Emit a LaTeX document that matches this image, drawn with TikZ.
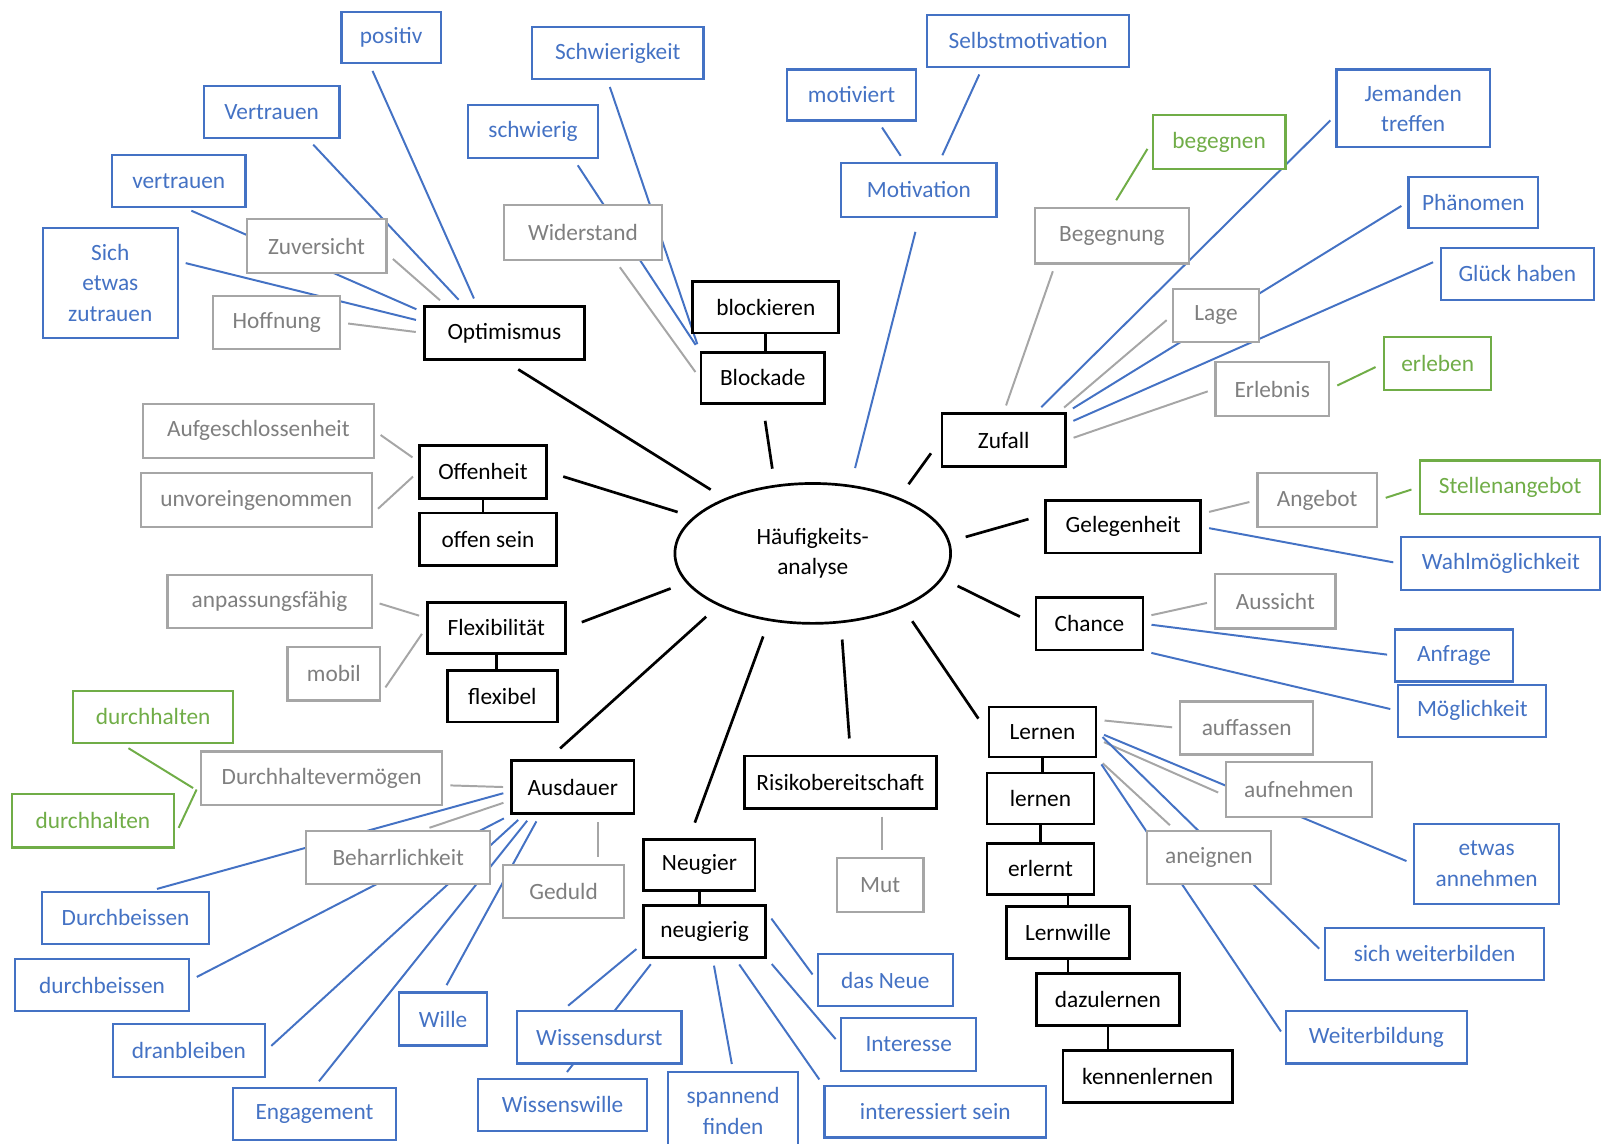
\documentclass[tikz,border=0pt]{standalone}
\usepackage{fontspec}
\setmainfont{Carlito}
\usetikzlibrary{shapes.geometric,backgrounds}
\newlength\px
\setlength\px{0.02cm}
\definecolor{mmblue}{HTML}{4472C4}
\definecolor{mmgray}{HTML}{A6A6A6}
\definecolor{mmgraytxt}{HTML}{7F7F7F}
\definecolor{mmgreen}{HTML}{70AD47}
\tikzset{
  wh/.style 2 args={minimum width={#1*\px}, minimum height={#2*\px}},
  box/.style={draw, fill=white, line width=1.2pt, inner sep=1pt, align=center, font=\fontsize{13}{17}\selectfont},
  blk/.style={box, line width=1.5pt},
  blu/.style={box, draw=mmblue, text=mmblue},
  gry/.style={box, draw=mmgray, text=mmgraytxt},
  grn/.style={box, draw=mmgreen, text=mmgreen},
  kline/.style={line width=1.5pt, shorten <={16*\px}, shorten >={16*\px}},
  bline/.style={mmblue, line width=1.1pt, shorten <={7*\px}, shorten >={7*\px}},
  gline/.style={mmgray, line width=1.1pt, shorten <={7*\px}, shorten >={7*\px}},
  nline/.style={mmgreen, line width=1.1pt, shorten <={8*\px}, shorten >={8*\px}},
  link/.style={line width=1.5pt},
}
\begin{document}
\begin{tikzpicture}[x=0.02cm, y=-0.02cm]
\useasboundingbox (0,0) rectangle (1568,1120);

    \node[ellipse, draw, line width=1.5pt, wh={270}{137}, inner sep=0pt, align=center, font=\fontsize{13}{17}\selectfont] (hfa) at (796,542) {Häufigkeits-\\analyse};

    % Optimismus
    \node[blk, wh={157}{52}] (opt) at (494,326) {Optimismus};
    \node[blu, wh={97}{50}] (posi) at (383,37) {positiv};
    \node[blu, wh={133}{51}] (Vert) at (266,110) {Vertrauen};
    \node[blu, wh={131}{51}] (vert) at (175,177) {vertrauen};
    \node[blu, wh={132}{108}] (zutr) at (108,277) {Sich\\etwas\\zutrauen};
    \node[gry, wh={137}{53}] (zuv) at (310,241) {Zuversicht};
    \node[gry, wh={124}{52}] (hoff) at (271,316) {Hoffnung};

    % Blockade
    \node[blk, wh={143}{50}] (blockv) at (750,301) {blockieren};
    \node[blk, wh={121}{50}] (block) at (747,370) {Blockade};
    \node[blu, wh={168}{51}] (Schw) at (605,52) {Schwierigkeit};
    \node[blu, wh={127}{52}] (schw) at (522,129) {schwierig};
    \node[gry, wh={154}{54}] (wid) at (571,228) {Widerstand};

    % Motivation
    \node[blu, wh={152}{53}] (moti) at (900,186) {Motivation};
    \node[blu, wh={126}{50}] (motv) at (834,93) {motiviert};
    \node[blu, wh={198}{51}] (selbst) at (1007,40) {Selbstmotivation};

    % Zufall
    \node[blk, wh={121}{52}] (zuf) at (983,431) {Zufall};
    \node[gry, wh={151}{54}] (beg) at (1089,231) {Begegnung};
    \node[grn, wh={130}{53}] (begv) at (1194,139) {begegnen};
    \node[blu, wh={150}{76}] (jem) at (1384,106) {Jemanden\\treffen};
    \node[blu, wh={127}{50}] (phae) at (1443,198) {Phänomen};
    \node[blu, wh={150}{51}] (glueck) at (1486,268) {Glück haben};
    \node[gry, wh={84}{52}] (lage) at (1191,309) {Lage};
    \node[gry, wh={111}{53}] (erlb) at (1246,381) {Erlebnis};
    \node[grn, wh={105}{52}] (erlv) at (1408,356) {erleben};

    % Gelegenheit
    \node[blk, wh={152}{51}] (gel) at (1100,516) {Gelegenheit};
    \node[gry, wh={117}{53}] (ang) at (1290,490) {Angebot};
    \node[grn, wh={176}{52}] (stelle) at (1479,477) {Stellenangebot};
    \node[blu, wh={195}{52}] (wahl) at (1470,552) {Wahlmöglichkeit};

    % Chance
    \node[blk, wh={105}{51}] (chan) at (1067,611) {Chance};
    \node[gry, wh={118}{53}] (auss) at (1249,589) {Aussicht};
    \node[blu, wh={115}{51}] (anfr) at (1424,642) {Anfrage};
    \node[blu, wh={145}{51}] (moegl) at (1442,696) {Möglichkeit};

    % Lernen
    \node[blk, wh={105}{49}] (lern) at (1021,717) {Lernen};
    \node[blk, wh={105}{50}] (lernv) at (1019,782) {lernen};
    \node[blk, wh={105}{50}] (erl) at (1019,851) {erlernt};
    \node[blk, wh={120}{51}] (lwille) at (1046,913) {Lernwille};
    \node[blk, wh={140}{51}] (dazu) at (1085,979) {dazulernen};
    \node[blk, wh={166}{51}] (kenn) at (1124,1054) {kennenlernen};
    \node[gry, wh={130}{52}] (auff) at (1221,713) {auffassen};
    \node[gry, wh={143}{54}] (aufn) at (1272,773) {aufnehmen};
    \node[gry, wh={122}{52}] (aneig) at (1184,840) {aneignen};
    \node[blu, wh={142}{78}] (annehm) at (1456,846) {etwas\\annehmen};
    \node[blu, wh={214}{51}] (sichwb) at (1405,934) {sich weiterbilden};
    \node[blu, wh={177}{51}] (wb) at (1348,1016) {Weiterbildung};

    % Risikobereitschaft
    \node[blk, wh={188}{51}] (risk) at (823,766) {Risikobereitschaft};
    \node[gry, wh={85}{53}] (mut) at (862,867) {Mut};

    % Neugier
    \node[blk, wh={109}{50}] (neug) at (685,847) {Neugier};
    \node[blk, wh={120}{51}] (neugv) at (690,912) {neugierig};
    \node[blu, wh={132}{51}] (neue) at (867,960) {das Neue};
    \node[blu, wh={132}{52}] (inter) at (890,1023) {Interesse};
    \node[blu, wh={217}{50}] (intsein) at (916,1089) {interessiert sein};
    \node[blu, wh={127}{76}] (spann) at (718,1088) {spannend\\finden};
    \node[blu, wh={161}{51}] (durst) at (587,1016) {Wissensdurst};
    \node[blu, wh={165}{51}] (wwille) at (551,1082) {Wissenswille};

    % Ausdauer
    \node[blk, wh={120}{52}] (aus) at (561,771) {Ausdauer};
    \node[gry, wh={236}{52}] (dhv) at (315,762) {Durchhaltevermögen};
    \node[grn, wh={157}{51}] (dhA) at (150,702) {durchhalten};
    \node[grn, wh={159}{52}] (dhB) at (91,804) {durchhalten};
    \node[gry, wh={180}{52}] (behar) at (390,840) {Beharrlichkeit};
    \node[gry, wh={119}{52}] (ged) at (552,873) {Geduld};
    \node[blu, wh={163}{51}] (Durchb) at (123,899) {Durchbeissen};
    \node[blu, wh={171}{51}] (durchb) at (100,965) {durchbeissen};
    \node[blu, wh={149}{52}] (dran) at (185,1029) {dranbleiben};
    \node[blu, wh={160}{51}] (eng) at (308,1091) {Engagement};
    \node[blu, wh={86}{52}] (wille) at (434,998) {Wille};

    % Flexibilitaet
    \node[blk, wh={135}{50}] (flex) at (486,615) {Flexibilität};
    \node[blk, wh={108}{50}] (flexv) at (492,682) {flexibel};
    \node[gry, wh={200}{52}] (anp) at (264,589) {anpassungsfähig};
    \node[gry, wh={91}{52}] (mobil) at (327,660) {mobil};

    % Offenheit
    \node[blk, wh={124}{52}] (off) at (473,462) {Offenheit};
    \node[blk, wh={134}{51}] (offv) at (478,528) {offen sein};
    \node[gry, wh={226}{53}] (aufg) at (253,422) {Aufgeschlossenheit};
    \node[gry, wh={226}{53}] (unvor) at (251,490) {unvoreingenommen};

\begin{scope}[on background layer]
% zur Mitte
\draw[kline] (opt.south) -- (hfa.148);
\draw[kline] (block.south) -- (hfa.119);
\draw[bline, shorten <={14*\px}, shorten >={17*\px}] (moti.south) -- (hfa.61);
\draw[kline] (zuf.west) -- (hfa.33);
\draw[kline] ([yshift={12*\px}]gel.west) -- (hfa.5);
\draw[kline] (chan.west) -- (hfa.-11);
\draw[kline] (lern.west) -- (hfa.-31);
\draw[kline] ([xshift={10*\px}]risk.north) -- (hfa.-68);
\draw[kline] ([xshift={-10*\px}]neug.north) -- (hfa.-123);
\draw[kline] ([xshift={37*\px}]aus.north west) -- (hfa.209);
\draw[kline] (flex.east) -- (hfa.193);
\draw[kline] (off.east) -- (hfa.163);

% Optimismus
\draw[bline] ([xshift={-21*\px}]posi.south) -- ([xshift={-27*\px}]opt.north);
\draw[bline] ([xshift={36*\px}]Vert.south) -- ([xshift={-40*\px}]opt.north);
\draw[bline] ([xshift={6*\px}]vert.south) -- ([yshift={-7*\px}]opt.north west);
\draw[bline] ([yshift={21*\px}]zutr.east) -- ([yshift={11*\px}]opt.west);
\draw[gline] ([yshift={-8*\px}]zuv.east) -- ([xshift={22*\px}]opt.north west);
\draw[gline] (hoff.east) -- (opt.west);

% Blockade
\draw[bline] ([xshift={-10*\px}]Schw.south) -- (block.north west);
\draw[bline] ([xshift={40*\px}]schw.south) -- (block.north west);
\draw[gline] ([xshift={32*\px}]wid.south) -- (block.west);
\draw[link] (blockv.south) -- (blockv.south |- block.north);

% Motivation
\draw[bline] ([xshift={26*\px}]motv.south) -- ([xshift={-14*\px}]moti.north);
\draw[bline] ([xshift={-45*\px}]selbst.south) -- ([xshift={20*\px}]moti.north);

% Zufall
\draw[nline] (begv.west) -- (beg.north);
\draw[gline] ([xshift={21*\px}]beg.south west) -- (zuf.north);
\draw[bline] ([yshift={-7*\px}]jem.west) -- ([xshift={-30*\px}]zuf.north east);
\draw[gline] (lage.west) -- ([xshift={-8*\px}]zuf.north east);
\draw[bline] (phae.west) -- (zuf.north east);
\draw[bline] ([yshift={14*\px}]glueck.west) -- ([yshift={16*\px}]zuf.east);
\draw[gline] (erlb.west) -- (zuf.east);
\draw[nline] (erlv.west) -- (erlb.east);

% Gelegenheit
\draw[gline] ([yshift={13*\px}]gel.east) -- (ang.west);
\draw[nline] (ang.east) -- (stelle.west);
\draw[bline] (gel.east) -- (wahl.west);

% Chance
\draw[gline] ([yshift={7*\px}]chan.east) -- (auss.west);
\draw[bline] (chan.east) -- (anfr.west);
\draw[bline] (chan.south east) -- (moegl.west);

% Lernen
\draw[gline] ([yshift={12*\px}]lern.east) -- (auff.west);
\draw[bline] (lern.east) -- (annehm.west);
\draw[gline] ([yshift={-7*\px}]lern.east) -- ([yshift={-6*\px}]aufn.west);
\draw[gline] (lern.south east) -- ([xshift={29*\px}]aneig.north west);
\draw[bline] (lern.east) -- (sichwb.west);
\draw[bline] (lern.south east) -- (wb.west);
\draw[link] (lern.south) -- (lern.south |- lernv.north);
\draw[link] (lernv.south) -- (lernv.south |- erl.north);
\draw[link] (lwille.north |- erl.south) -- (lwille.north);
\draw[link] (lwille.south) -- (lwille.south |- dazu.north);
\draw[link] (dazu.south) -- (dazu.south |- kenn.north);

% Risikobereitschaft
\draw[gline] ([xshift={41*\px}]risk.south) -- ([xshift={2*\px}]mut.north);

% Neugier
\draw[link] (neug.south) -- (neug.south |- neugv.north);
\draw[bline] ([yshift={18*\px}]neugv.east) -- (neue.west);
\draw[bline] (neugv.south east) -- (inter.west);
\draw[bline] ([xshift={30*\px}]neugv.south) -- (intsein.north west);
\draw[bline] ([xshift={8*\px}]neugv.south) -- (spann.north);
\draw[bline] ([yshift={-13*\px}]neugv.west) -- ([xshift={-36*\px}]durst.north);
\draw[bline] ([xshift={13*\px}]neugv.south west) -- (wwille.north);

% Ausdauer
\draw[gline] ([yshift={-7*\px}]dhv.east) -- (aus.west);
\draw[nline] ([xshift={-31*\px}]dhA.south) -- ([yshift={-14*\px}]dhv.west);
\draw[nline] ([yshift={-14*\px}]dhB.east) -- ([yshift={-4*\px}]dhv.west);
\draw[gline] ([xshift={24*\px}]behar.north) -- ([yshift={-13*\px}]aus.west);
\draw[gline] ([xshift={25*\px}]aus.south) -- ([xshift={34*\px}]ged.north);
\draw[bline] ([xshift={24*\px}]Durchb.north) -- ([yshift={-4*\px}]aus.west);
\draw[bline] ([yshift={5*\px}]durchb.east) -- (aus.south west);
\draw[bline] (dran.east) -- ([xshift={13*\px}]aus.south west);
\draw[bline] (eng.north) -- ([xshift={21*\px}]aus.south west);
\draw[bline] (wille.north) -- ([xshift={29*\px}]aus.south west);

% Flexibilitaet
\draw[gline] (anp.east) -- ([yshift={10*\px}]flex.west);
\draw[gline] ([yshift={-19*\px}]mobil.east) -- (flex.west);
\draw[link] (flex.south) -- (flex.south |- flexv.north);

% Offenheit
\draw[gline] (aufg.east) -- ([yshift={10*\px}]off.west);
\draw[gline] ([yshift={-13*\px}]unvor.east) -- (off.west);
\draw[link] (off.south) -- (off.south |- offv.north);
\end{scope}

\end{tikzpicture}
\end{document}
